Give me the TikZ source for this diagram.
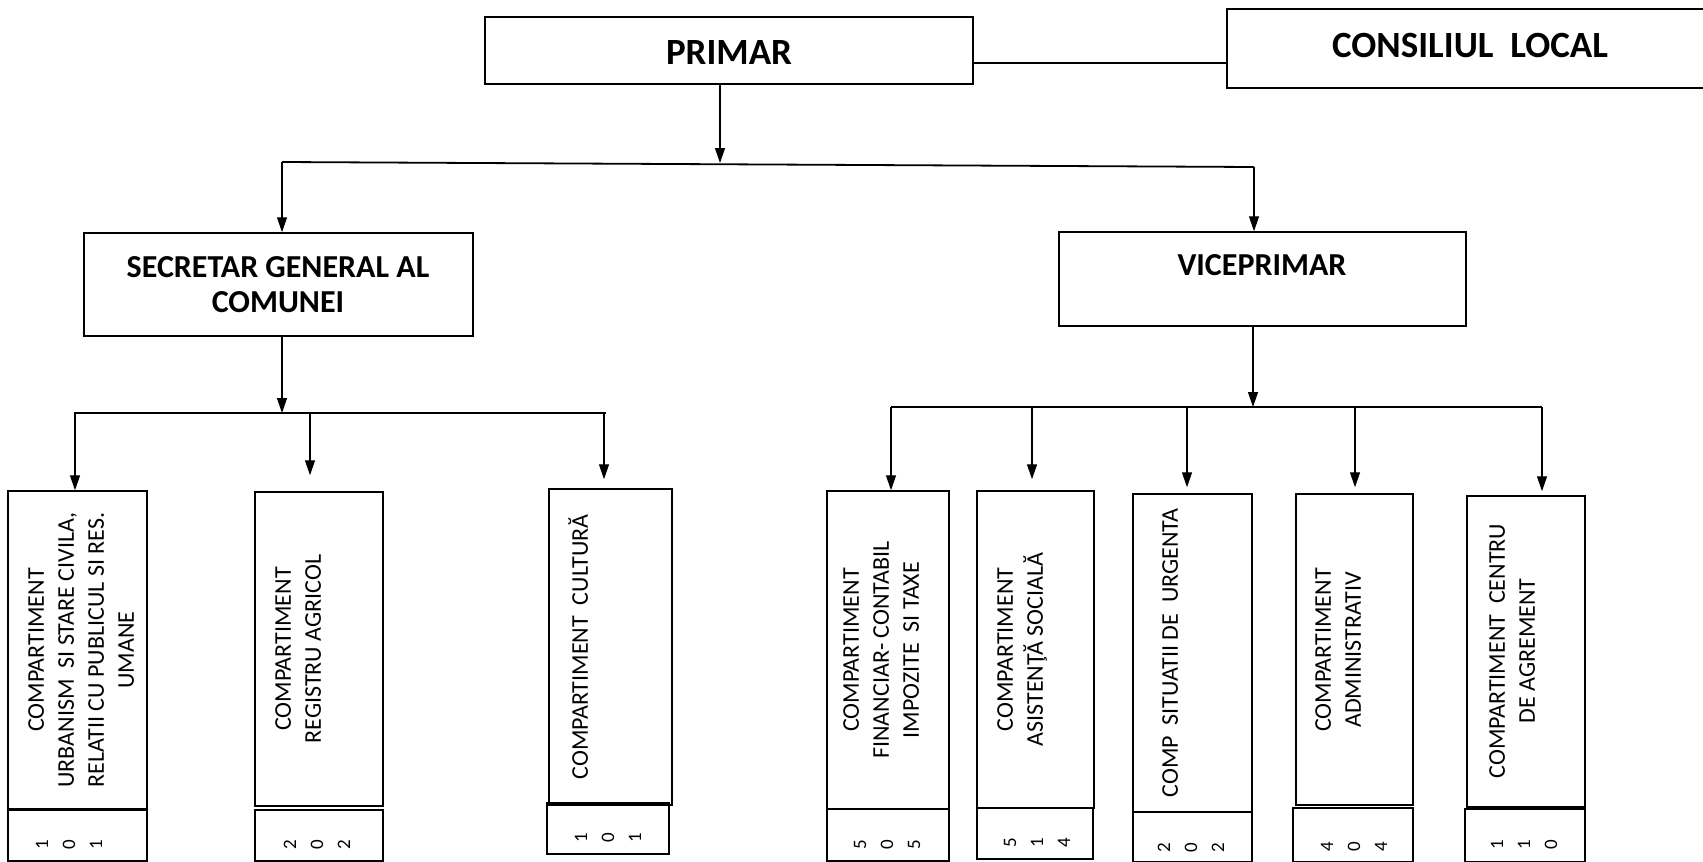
\documentclass[tikz,border=0pt]{standalone}
\usepackage{fontspec}
\setmainfont{Carlito}
\usetikzlibrary{arrows.meta,fit}
\begin{document}
\begin{tikzpicture}[x=1pt,y=-1pt,
  box/.style={draw, line width=1.5pt, inner sep=0pt},
  conn/.style={line width=1.3pt},
  thickline/.style={line width=1.8pt},
  arr/.style={conn, -{Triangle[length=15pt,width=10pt]}},
  vtext/.style={rotate=90, anchor=north, inner sep=0pt, align=center, font=\fontsize{24}{30}\selectfont},
  digits/.style={rotate=90, inner sep=0pt, align=center, font=\fontsize{19}{27}\selectfont},
  bigtext/.style={inner sep=0pt, font=\bfseries\fontsize{37}{40}\selectfont},
  midtext/.style={inner sep=0pt, align=center, font=\bfseries\fontsize{32}{35}\selectfont}
]
\useasboundingbox (0,0) rectangle (1703,862);

% ---- top level
\node[box, fit={(485,17) (973,84)}] (primar) {};
\node[bigtext] (primart) at (729,53) {PRIMAR};
\node[box, fit={(1227,9) (1715,88)}] (cl) {};
\node[bigtext] (clt) at (1470,46) {CONSILIUL\ \ LOCAL};
\draw[conn] (primar.east |- 0,63) -- (cl.west |- 0,63);

% ---- second level
\node[box, fit={(84,233) (473,336)}] (sec) {};
\node[midtext] (sect) at (278,284.5) {SECRETAR GENERAL AL\\COMUNEI};
\node[box, fit={(1059,232) (1466,326)}] (vice) {};
\node[midtext] (vicet) at (1262,265) {VICEPRIMAR};

\coordinate (b0) at (720,163);
\coordinate (bl) at (282,162);
\coordinate (br) at (1254,167);
\draw[arr] (primar.south -| b0) -- (b0);
\draw[thickline] (bl) -- (br);
\draw[arr] (bl) -- (sec.north -| bl);
\draw[arr] (br) -- (vice.north -| br);

% ---- bottom boxes
\node[box, fit={(8,491) (147,809)}] (u1) {};
\node[box, fit={(8,810) (147,861)}] (n1) {};
\node[box, fit={(255,492) (383,806)}] (u2) {};
\node[box, fit={(255,810) (383,861)}] (n2) {};
\node[box, fit={(549,489) (672,805)}] (u3) {};
\node[box, fit={(547,803) (669,854)}] (n3) {};
\node[box, fit={(827,491) (949,809)}] (u4) {};
\node[box, fit={(827,809) (949,861)}] (n4) {};
\node[box, fit={(977,491) (1094,808)}] (u5) {};
\node[box, fit={(977,808) (1093,859)}] (n5) {};
\node[box, fit={(1133,494) (1252,812)}] (u6) {};
\node[box, fit={(1133,812) (1252,862)}] (n6) {};
\node[box, fit={(1296,494) (1413,805)}] (u7) {};
\node[box, fit={(1293,808) (1413,862)}] (n7) {};
\node[box, fit={(1467,496) (1585,807)}] (u8) {};
\node[box, fit={(1465,809) (1585,862)}] (n8) {};

\node[vtext] (t1) at (28,650) {COMPARTIMENT\\URBANISM\ \ SI STARE CIVILA,\\RELATII CU PUBLICUL SI RES.\\UMANE};
\node[vtext] (t2) at (275,649) {COMPARTIMENT\\REGISTRU AGRICOL};
\node[vtext] (t3) at (568,647) {COMPARTIMENT\ \ CULTURĂ};
\node[vtext] (t4) at (843,650) {COMPARTIMENT\\FINANCIAR- CONTABIL\\IMPOZITE\ \ SI TAXE};
\node[vtext] (t5) at (997,649.5) {COMPARTIMENT\\ASISTENŢĂ SOCIALĂ};
\node[vtext] (t6) at (1162,653) {COMP\ \ SITUATII DE\ \ URGENTA};
\node[vtext] (t7) at (1315,650) {COMPARTIMENT\\ADMINISTRATIV};
\node[vtext] (t8) at (1489,651) {COMPARTIMENT\ \ CENTRU\\DE AGREMENT};

\node[digits] (d1) at (69,845) {1\\0\\1};
\node[digits] (d2) at (317,845) {2\\0\\2};
\node[digits] (d3) at (608,838) {1\\0\\1};
\node[digits] (d4) at (887,845) {5\\0\\5};
\node[digits] (d5) at (1037,843) {5\\1\\4};
\node[digits] (d6) at (1191,848) {2\\0\\2};
\node[digits] (d7) at (1354,847) {4\\0\\4};
\node[digits] (d8) at (1524,845) {1\\1\\0};

% ---- left branch
\coordinate (hl) at (282,413);
\coordinate (hl1) at (75,413);
\coordinate (hl2) at (606,413);
\draw[arr] (sec.south -| hl) -- (hl);
\draw[thickline] (74,413) -- (hl2);
\draw[arr] (hl1) -- (u1.north -| hl1);
\draw[arr, shorten >=16pt] (310,413) -- (u2.north -| 310,0);
\draw[arr, shorten >=9pt] (604,413) -- (u3.north -| 604,0);

% ---- right branch
\coordinate (hr) at (1253,407);
\coordinate (hr1) at (891,407);
\coordinate (hr2) at (1542,407);
\draw[arr] (vice.south -| hr) -- (hr);
\draw[thickline] (hr1) -- (hr2);
\draw[arr] (hr1) -- (u4.north -| hr1);
\draw[arr, shorten >=11pt] (1032,407) -- (u5.north -| 1032,0);
\draw[arr, shorten >=6pt] (1187,407) -- (u6.north -| 1187,0);
\draw[arr, shorten >=6pt] (1355,407) -- (u7.north -| 1355,0);
\draw[arr, shorten >=4pt] (hr2) -- (u8.north -| hr2);
\end{tikzpicture}
\end{document}
